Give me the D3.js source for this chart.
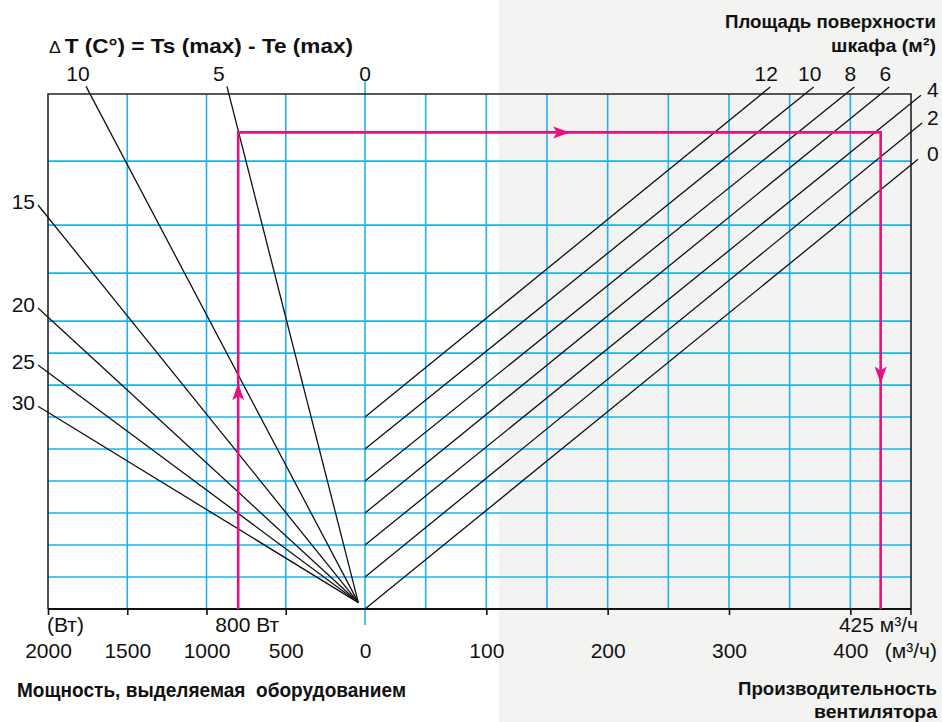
<!DOCTYPE html>
<html>
<head>
<meta charset="utf-8">
<script src="https://cdn.jsdelivr.net/npm/d3@7"></script>
<style>
  body { margin: 0; background: #fff; }
  svg { display: block; font-family: "Liberation Sans", Arial, sans-serif; }
  text { fill: #111; white-space: pre; }
  .title { font-weight: bold; font-size: 20.5px; }
  .titleR { font-weight: bold; font-size: 19px; }
  .num { font-size: 21px; }
</style>
</head>
<body>
<div id="chart"></div>
<script>
// power axis (left half) and fan flow axis (right half)
const powerTicks = [2000, 1500, 1000, 500, 0];
const powerGrid = [1500, 1000, 500];
const flowTicks = [100, 200, 300, 400];
const flowGrid = [50, 100, 150, 200, 250, 300, 350, 400];
const rowLevels = [1, 2, 3, 4, 5, 6, 7, 8, 9, 10.5, 12, 14];

// delta T lines, fanning out from the pivot near the origin
const pivot = { power: 42, level: 0.2 };
const deltaT = [10, 5, 15, 20, 25, 30];
const deltaTEndPower = [1760, 871, 2063, 2063, 2063, 2063];
const deltaTEndLevel = [16.34, 16.34, 12.63, 9.41, 7.63, 6.34];

// cabinet surface lines (m2)
const surface = [0, 2, 4, 6, 8, 10, 12];
const surfaceStartLevel = [0, 1, 2, 3, 4, 5, 6];
const surfaceEndFlow = [455.8, 459.1, 458.2, 432.1, 403.3, 369.8, 334.0];
const surfaceEndLevel = [14.06, 15.19, 16.06, 16.32, 16.32, 16.32, 16.32];

// worked example: 800 W, dT 5, 4 m2 -> 425 m3/h
const examplePower = 800;
const exampleFlow = 425;
const exampleLevel = 14.9;
const arrowFlow = 169;
const arrowLevelUp = 7.06;
const arrowLevelDown = 7.05;

const width = 942, height = 722;
const blue = "#1fb2ea", pink = "#e5127d";

const svg = d3.select("#chart").append("svg")
    .attr("width", width)
    .attr("height", height);

const xPower = d3.scaleLinear().domain([0, 2000]).range([365, 48]);
const xFlow = d3.scaleLinear().domain([0, 450]).range([365, 911]);
const y = d3.scaleLinear().domain([0, 16.1]).range([609, 94]);

const frameL = xPower(2000), frameR = xFlow(450), frameT = y(16.1), frameB = y(0);

// grey panel behind the fan side
svg.append("rect")
    .attr("x", 499).attr("y", 0)
    .attr("width", width - 499).attr("height", height)
    .attr("fill", "#f3f3f2");

// grid
const grid = svg.append("g").attr("stroke", blue).attr("stroke-width", 1.6);
grid.selectAll(".h").data(rowLevels).enter().append("line")
    .attr("x1", frameL).attr("x2", frameR)
    .attr("y1", d => y(d)).attr("y2", d => y(d));
grid.selectAll(".vp").data(powerGrid).enter().append("line")
    .attr("x1", d => xPower(d)).attr("x2", d => xPower(d))
    .attr("y1", frameT).attr("y2", frameB);
grid.selectAll(".vf").data(flowGrid).enter().append("line")
    .attr("x1", d => xFlow(d)).attr("x2", d => xFlow(d))
    .attr("y1", frameT).attr("y2", frameB);
// dT = 0 line runs past the frame
grid.append("line")
    .attr("x1", xPower(0)).attr("x2", xPower(0))
    .attr("y1", y(16.5)).attr("y2", y(-0.5));

// frame
svg.append("path")
    .attr("d", `M${frameL},${frameB}V${frameT}H${frameR}V${frameB + 6}`)
    .attr("fill", "none")
    .attr("stroke", "#222")
    .attr("stroke-width", 1.6);
svg.append("line")
    .attr("x1", frameL).attr("x2", frameR)
    .attr("y1", frameB).attr("y2", frameB)
    .attr("stroke", "#111").attr("stroke-width", 2.2);

// bottom axes
const powerAxis = svg.append("g")
    .attr("transform", "translate(0," + frameB + ")")
    .call(d3.axisBottom(xPower).tickValues(powerTicks).tickFormat(d3.format("d"))
        .tickSize(6).tickSizeOuter(0));
const flowAxis = svg.append("g")
    .attr("transform", "translate(0," + frameB + ")")
    .call(d3.axisBottom(xFlow).tickValues(flowTicks).tickFormat(d3.format("d"))
        .tickSize(6).tickSizeOuter(0));
[powerAxis, flowAxis].forEach(a => {
    a.select(".domain").remove();
    a.attr("font-family", null).attr("font-size", null);
    a.selectAll(".tick line").attr("stroke", "#111").attr("stroke-width", 1.6);
    a.selectAll(".tick text").attr("class", "num").attr("y", 49).attr("dy", null);
});
powerAxis.selectAll(".tick").filter(d => d === 0).select("line").remove();

// delta T lines
const lines = svg.append("g").attr("stroke", "#111").attr("stroke-width", 1.3);
lines.selectAll(".dt").data(deltaT).enter().append("line")
    .attr("x1", xPower(pivot.power)).attr("y1", y(pivot.level))
    .attr("x2", (d, i) => xPower(deltaTEndPower[i]))
    .attr("y2", (d, i) => y(deltaTEndLevel[i]));

// surface lines
lines.selectAll(".s").data(surface).enter().append("line")
    .attr("x1", xFlow(0))
    .attr("y1", (d, i) => y(surfaceStartLevel[i]))
    .attr("x2", (d, i) => xFlow(surfaceEndFlow[i]))
    .attr("y2", (d, i) => y(surfaceEndLevel[i]));

// example route
svg.append("path")
    .attr("d", `M${xPower(examplePower)},${frameB}V${y(exampleLevel)}H${xFlow(exampleFlow)}V${frameB}`)
    .attr("fill", "none")
    .attr("stroke", pink)
    .attr("stroke-width", 2.6);

function arrow(x, yy, angle) {
    svg.append("path")
        .attr("d", "M0,0L-17,-6L-13,0L-17,6Z")
        .attr("transform", `translate(${x},${yy}) rotate(${angle})`)
        .attr("fill", pink);
}
arrow(xFlow(arrowFlow), y(exampleLevel), 0);
arrow(xPower(examplePower), y(arrowLevelUp), -90);
arrow(xFlow(exampleFlow), y(arrowLevelDown), 90);

// labels of the delta T scale
const labelTopY = 81;
svg.selectAll(".dtTop").data(deltaT.slice(0, 2).concat([0])).enter().append("text")
    .attr("class", "num")
    .attr("text-anchor", "middle")
    .attr("x", (d, i) => i < 2 ? xPower(deltaTEndPower[i]) - 8 : xPower(0))
    .attr("y", labelTopY)
    .text(d => d);
svg.selectAll(".dtLeft").data(deltaT.slice(2)).enter().append("text")
    .attr("class", "num")
    .attr("text-anchor", "end")
    .attr("x", 35)
    .attr("y", (d, i) => y(deltaTEndLevel[i + 2]) + 4)
    .text(d => d);

// labels of the surface lines
svg.selectAll(".sl").data(surface).enter().append("text")
    .attr("class", "num")
    .attr("text-anchor", (d, i) => i < 3 ? "start" : "middle")
    .attr("x", (d, i) => i < 3 ? 927 : xFlow(surfaceEndFlow[i]) - 4)
    .attr("y", (d, i) => i < 3 ? y(surfaceEndLevel[i]) + 2 : labelTopY)
    .text(d => d);

// titles (fitted ones are placed from their left edge)
function label(txt, x, yy, anchor, cls, len) {
    const t = svg.append("text")
        .attr("class", cls)
        .attr("y", yy)
        .text(txt);
    if (len) {
        t.attr("x", anchor === "end" ? x - len : x)
            .attr("textLength", len).attr("lengthAdjust", "spacingAndGlyphs");
    } else {
        t.attr("x", x).attr("text-anchor", anchor);
    }
    return t;
}
const dtTitle = label("", 49, 53, "start", "title", 304);
dtTitle.append("tspan").attr("font-weight", "normal").attr("font-size", 16).text("\u0394 ");
dtTitle.append("tspan").text("T (C\u00b0) = Ts (max) - Te (max)");
label("Площадь поверхности", 936, 28, "end", "titleR", 211);
label("шкафа (м²)", 936, 52, "end", "titleR", 105);
label("Мощность, выделяемая  оборудованием", 17, 697, "start", "title", 389);
label("Производительность", 937, 695, "end", "titleR", 199);
label("вентилятора", 937, 718, "end", "titleR", 123);

label("(Вт)", 47, 632, "start", "num");
label("800 Вт", xPower(examplePower) + 9, 632, "middle", "num");
label("425 м³/ч", 918, 632, "end", "num");
label("(м³/ч)", 937, 658, "end", "num");
</script>
</body>
</html>
